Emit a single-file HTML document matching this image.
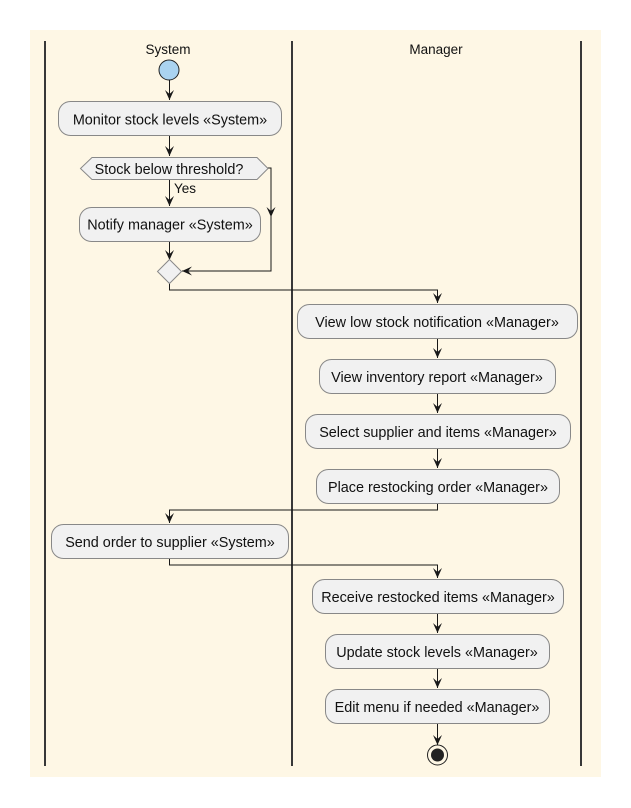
<!DOCTYPE html>
<html><head><meta charset="utf-8"><style>
html,body{margin:0;padding:0;background:#fff;}
svg{display:block;}
text{font-family:"Liberation Sans",Arial,sans-serif;font-size:14.4px;fill:#111;}
</style></head><body>
<svg width="631" height="808" viewBox="0 0 631 808" xmlns="http://www.w3.org/2000/svg">
<rect x="30" y="30" width="571" height="747" fill="#FEF7E5"/>
<g stroke="#383838" stroke-width="2">
<line x1="45" y1="41" x2="45" y2="766"/>
<line x1="292" y1="41" x2="292" y2="766"/>
<line x1="581" y1="41" x2="581" y2="766"/>
</g>
<text x="168" y="54" text-anchor="middle" style="font-size:13.5px">System</text>
<text x="436" y="54" text-anchor="middle" style="font-size:13.5px">Manager</text>

<circle cx="169" cy="70" r="10" fill="#AAD3F0" stroke="#222" stroke-width="1"/>

<g stroke="#181818" stroke-width="1" fill="none">
<path d="M169.5 80V100 M169.5 136V156 M169.5 180V206 M169.5 241V260 M257 168H271V271H182 M169.5 283V290H437.5V303 M437.5 339V358 M437.5 394V413 M437.5 449V468 M437.5 504V510H169.5V523 M169.5 559V565H437.5V578 M437.5 614V633 M437.5 669V688 M437.5 724V745"/>
</g>
<g fill="#181818">
<path d="M165 90L169.5 100L174 90L169.5 94Z"/>
<path d="M165 146L169.5 156L174 146L169.5 150Z"/>
<path d="M165 196L169.5 206L174 196L169.5 200Z"/>
<path d="M165 250L169.5 260L174 250L169.5 254Z"/>
<path d="M266.5 207L271 217L275.5 207L271 211Z"/>
<path d="M192 266.5L182 271L192 275.5L188 271Z"/>
<path d="M433 293L437.5 303L442 293L437.5 297Z"/>
<path d="M433 348L437.5 358L442 348L437.5 352Z"/>
<path d="M433 403L437.5 413L442 403L437.5 407Z"/>
<path d="M433 458L437.5 468L442 458L437.5 462Z"/>
<path d="M165 513L169.5 523L174 513L169.5 517Z"/>
<path d="M433 568L437.5 578L442 568L437.5 572Z"/>
<path d="M433 623L437.5 633L442 623L437.5 627Z"/>
<path d="M433 678L437.5 688L442 678L437.5 682Z"/>
<path d="M433 735L437.5 745L442 735L437.5 739Z"/>
</g>

<g fill="#F1F1F1" stroke="#888" stroke-width="1">
<rect x="58.5" y="101.5" width="223" height="34" rx="12"/>
<path d="M80.5 168.5L92 157.5H257L268 168.5L257 179.5H92Z"/>
<rect x="79.5" y="207.5" width="181" height="34" rx="12"/>
<path d="M169.5 259.5L181.5 271.5L169.5 283.5L157.5 271.5Z"/>
<rect x="297.5" y="304.5" width="280" height="34" rx="12"/>
<rect x="319.5" y="359.5" width="236" height="34" rx="12"/>
<rect x="305.5" y="414.5" width="265" height="34" rx="12"/>
<rect x="316.5" y="469.5" width="243" height="34" rx="12"/>
<rect x="51.5" y="524.5" width="237" height="34" rx="12"/>
<rect x="312.5" y="579.5" width="251" height="34" rx="12"/>
<rect x="325.5" y="634.5" width="224" height="34" rx="12"/>
<rect x="325.5" y="689.5" width="224" height="34" rx="12"/>
</g>
<text x="170" y="124.5" text-anchor="middle">Monitor stock levels «System»</text>
<text x="169" y="174" text-anchor="middle">Stock below threshold?</text>
<text x="174" y="193" style="font-size:13.5px">Yes</text>
<text x="170" y="229.5" text-anchor="middle">Notify manager «System»</text>
<text x="437" y="327" text-anchor="middle">View low stock notification «Manager»</text>
<text x="437" y="382" text-anchor="middle">View inventory report «Manager»</text>
<text x="438" y="437" text-anchor="middle">Select supplier and items «Manager»</text>
<text x="438" y="492" text-anchor="middle">Place restocking order «Manager»</text>
<text x="170" y="547" text-anchor="middle">Send order to supplier «System»</text>
<text x="438" y="602" text-anchor="middle">Receive restocked items «Manager»</text>
<text x="437" y="657" text-anchor="middle">Update stock levels «Manager»</text>
<text x="437" y="712" text-anchor="middle">Edit menu if needed «Manager»</text>

<circle cx="437.5" cy="755" r="10" fill="none" stroke="#222" stroke-width="1"/>
<circle cx="437.5" cy="755" r="6.5" fill="#222"/>
</svg>
</body></html>
